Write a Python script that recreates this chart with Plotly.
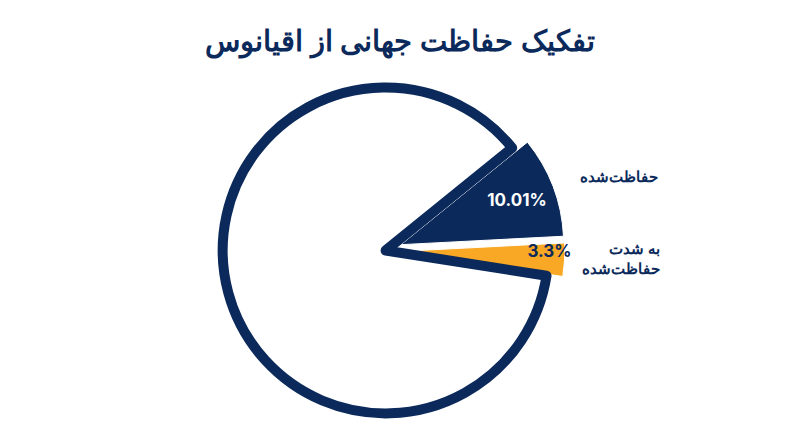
import plotly.graph_objects as go

labels = ["حفاظت‌شده", "به شدت حفاظت‌شده", "سایر"]
values = [10.01, 3.3, 86.69]
inner_text = ["<b>10.01%</b>", "<b>3.3%</b>", ""]
colors = ["#0b2a5b", "#f9a825", "#ffffff"]
navy = "#0b2a5b"

fig = go.Figure(go.Pie(
    labels=labels, values=values, sort=False, direction="clockwise",
    rotation=51, pull=[0.1, 0.1, 0],
    text=inner_text, textinfo="text", textposition="inside",
    insidetextorientation="horizontal",
    textfont=dict(family="Inter, Noto Sans", size=17, color=["white", navy, navy]),
    marker=dict(colors=colors, line=dict(color=["white", "white", navy], width=[1, 1, 10])),
    domain=dict(x=[0.248, 0.696], y=[0.055, 0.86]),
    showlegend=False, hoverinfo="skip",
))

fig.add_annotation(x=0.712, y=0.625, xref="paper", yref="paper", text="<b>حفاظت‌شده</b>",
                   showarrow=False, xanchor="left", font=dict(family="Noto Sans", size=15, color=navy))
fig.add_annotation(x=0.715, y=0.44, xref="paper", yref="paper", text="<b>به شدت<br>حفاظت‌شده</b>",
                   showarrow=False, xanchor="left", align="right",
                   font=dict(family="Noto Sans", size=15, color=navy))

fig.update_layout(
    width=800, height=447, paper_bgcolor="white", plot_bgcolor="white",
    margin=dict(l=0, r=0, t=0, b=0),
    uniformtext=dict(minsize=16, mode="show"),
    title=dict(text="<b>تفکیک حفاظت جهانی از اقیانوس</b>", x=0.49, y=0.95, xanchor="center",
               font=dict(family="Noto Sans", size=29, color=navy)),
)
fig.write_html("out.html")
